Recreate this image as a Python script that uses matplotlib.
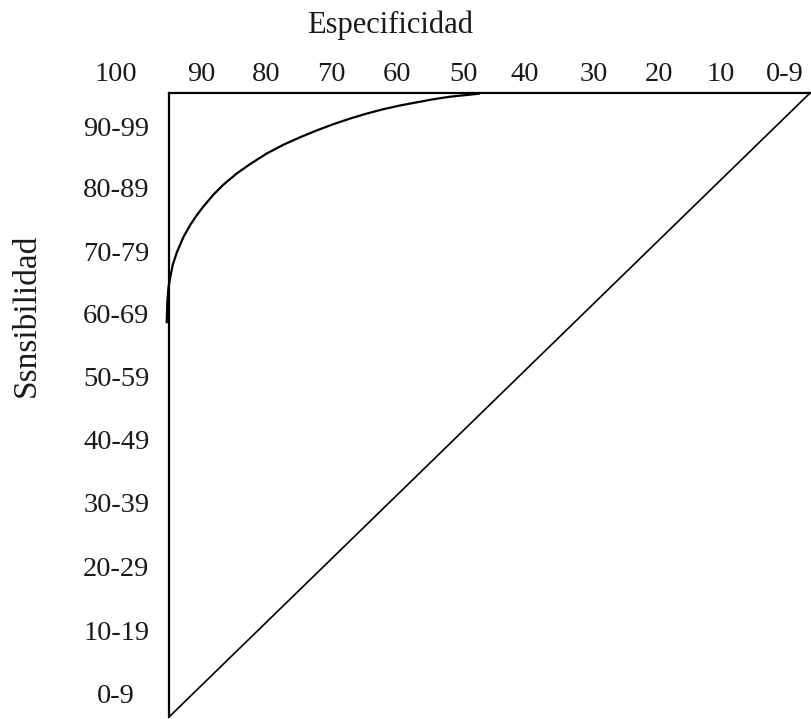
import matplotlib
matplotlib.use("Agg")
import matplotlib.pyplot as plt

plt.rcParams['font.family'] = ['Liberation Serif', 'DejaVu Serif']

# top axis: specificity labels and where they sit (0-100 scale of the box)
spec_labels = ["100", "90", "80", "70", "60", "50", "40", "30", "20", "10", "0-9"]
spec_pos = [-8.3, 5.1, 15.2, 25.4, 35.5, 45.9, 55.5, 66.3, 76.4, 86.1, 96.1]

# left axis: sensitivity labels
sens_labels = ["90-99", "80-89", "70-79", "60-69", "50-59",
               "40-49", "30-39", "20-29", "10-19", "0-9"]
sens_pos = [94.6, 84.8, 74.6, 64.7, 54.5, 44.4, 34.3, 24.1, 13.9, 3.8]

# curve
curve_x = [-0.36, -0.26, -0.10, 0.16, 0.57, 1.20, 2.24, 3.28, 4.32, 5.36, 6.92,
           8.48, 10.56, 12.64, 15.24, 17.84, 20.44, 23.04, 25.64, 28.24, 30.84,
           33.44, 36.04, 38.64, 41.24, 43.84, 48.5]
curve_y = [63.1, 66.6, 68.7, 70.3, 72.4, 74.4, 76.9, 78.8, 80.4, 81.8, 83.7,
           85.3, 87.1, 88.6, 90.3, 91.7, 92.9, 94.0, 95.0, 95.9, 96.7,
           97.4, 98.0, 98.5, 99.0, 99.4, 99.9]

# chance line
diag_x = [0, 100]
diag_y = [0, 100]

fig = plt.figure(figsize=(8.12, 7.19), dpi=100)
ax = fig.add_axes([0.1292, 0.00278, 0.8684, 0.8679])
ax.set_xlim(-10, 100)
ax.set_ylim(0, 100)

ax.plot(curve_x, curve_y, color="black", lw=1.6, clip_on=False,
        solid_capstyle="butt", solid_joinstyle="round")
ax.plot(diag_x, diag_y, color="black", lw=1.2, clip_on=False)

for s in ["right", "bottom"]:
    ax.spines[s].set_visible(False)
ax.spines["top"].set_bounds(0, 100)
ax.spines["left"].set_bounds(0, 100)
ax.spines["left"].set_position(("data", 0))
for s in ["top", "left"]:
    ax.spines[s].set_linewidth(1.6)

ax.xaxis.tick_top()
ax.set_xticks(spec_pos)
ax.set_xticklabels(spec_labels)
ax.set_yticks(sens_pos)
ax.set_yticklabels(sens_labels, ha="center")
ax.tick_params(axis="x", length=0, pad=4, labelsize=20.5, colors="#1a1a1a")
ax.tick_params(axis="y", length=0, pad=38, labelsize=20.5, colors="#1a1a1a")

fig.text(0.48, 0.965, "Especificidad", ha="center", va="center", fontsize=22, color="#1a1a1a")
fig.text(0.033, 0.562, "Ssnsibilidad", ha="center", va="center", rotation=90,
         fontsize=24, color="#1a1a1a")

fig.savefig("out.png", dpi=100)
